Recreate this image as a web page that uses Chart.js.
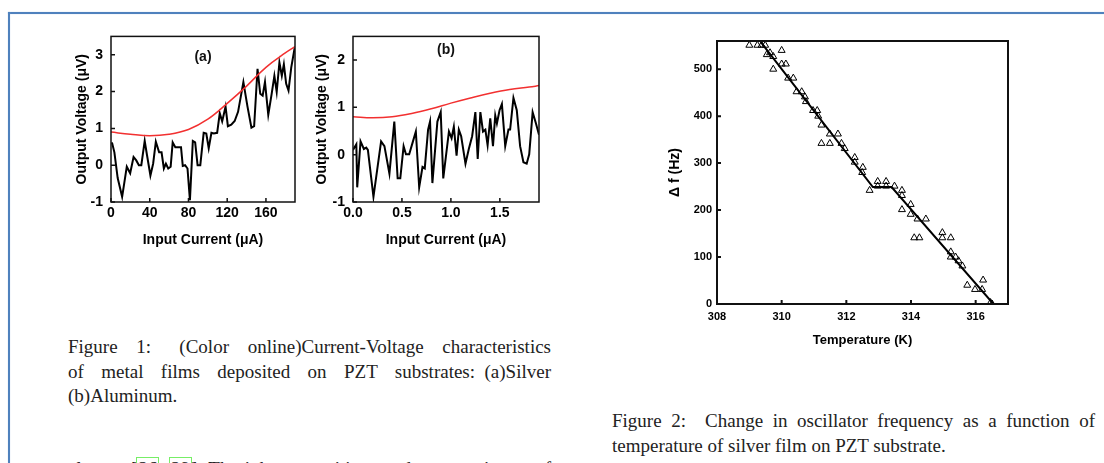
<!DOCTYPE html>
<html>
<head>
<meta charset="utf-8">
<script src="https://cdn.jsdelivr.net/npm/chart.js@4.4.1/dist/chart.umd.min.js"></script>
<style>
  html, body { margin: 0; padding: 0; background: #fff; }
  body { width: 1104px; height: 463px; position: relative; overflow: hidden; }
  .rule-top { position: absolute; left: 8px; top: 12px; width: 1096px; height: 2px; background: #4f81bd; box-shadow: 0 0 1px #9db9de; }
  .rule-left { position: absolute; left: 8px; top: 12px; width: 2px; height: 451px; background: #4f81bd; box-shadow: 0 0 1px #9db9de; }
  canvas { position: absolute; }
  .cap { position: absolute; width: 483px; font-family: "Liberation Serif", "DejaVu Serif", serif; font-size: 19px; line-height: 24.5px; color: #222; }
  .cap .j { text-align: justify; text-align-last: justify; }
  .cite { outline: 1px solid #77ee66; outline-offset: 0; padding: 0 1px; }
</style>
</head>
<body>
<div class="rule-top"></div>
<div class="rule-left"></div>

<canvas id="chartA" width="250" height="240" style="left:60px;top:20px"></canvas>
<canvas id="chartB" width="250" height="240" style="left:300px;top:20px"></canvas>
<canvas id="chartC" width="360" height="335" style="left:660px;top:25px"></canvas>

<div class="cap" style="left:68px;top:335px">
  <div class="j">Figure 1:&ensp; (Color online)Current-Voltage characteristics</div>
  <div class="j">of metal films deposited on PZT substrates:&ensp;(a)Silver</div>
  <div>(b)Aluminum.</div>
</div>
<div class="cap" style="left:612px;top:409px">
  <div class="j">Figure 2:&ensp; Change in oscillator frequency as a function of</div>
  <div>temperature of silver film on PZT substrate.</div>
</div>
<div class="cap" style="left:68px;top:457px">
  <div class="j">also on [<span class="cite">26</span>, <span class="cite">29</span>]. The ink composition used was a mixture of metal</div>
</div>

<script>
// Figure 1(a): silver film
const silverCurrent = [1.0, 3.5, 6.9, 11.5, 16.3, 19.8, 23.3, 26.1, 28.8, 31.3, 34.8, 37.2, 40.7, 43.5, 46.3, 49.7,
  52.2, 54.6, 56.7, 59.1, 61.6, 63.7, 66.4, 69.6, 72.3, 74.1, 76.5, 79, 81.5, 84.5, 86.9, 89.4, 92.2, 95.7, 98.4,
  100.9, 103.7, 106.1, 109.6, 112.3, 114.8, 118.3, 120.7, 124.2, 127.7, 131.2, 136.7, 140.9, 145, 147.8, 151.3,
  154.1, 156.6, 159, 162.4, 165.9, 168.7, 171.1, 173.9, 176.4, 178.5, 180.9, 183.3, 186.1, 189.6];
const silverVoltage = [0.62, 0.35, -0.35, -0.86, -0.04, -0.22, 0.22, 0.13, 0, 0, 0.66, 0.27, -0.28, 0.04, 0.64, 0.35,
  0.35, -0.09, 0.04, -0.09, -0.04, 0.62, 0.49, 0.49, 0.49, -0.02, 0, -0.09, -0.95, 0.66, 0.62, 0, 0, 0.88, 0.86,
  0.46, 0.88, 0.86, 0.88, 1.41, 1.19, 1.59, 1.06, 1.1, 1.2, 1.45, 2.26, 1.6, 1.02, 1.06, 2.62,
  1.94, 1.89, 2.26, 1.37, 1.94, 2.43, 1.99, 2.79, 2.43, 2.74, 2.21, 2.03, 2.65, 3.18];
const silverFitCurrent = [0, 20, 40, 60, 80, 100, 120, 140, 160, 180, 190];
const silverFitVoltage = [0.9, 0.84, 0.8, 0.84, 0.97, 1.25, 1.68, 2.15, 2.66, 3.05, 3.22];

// Figure 1(b): aluminium film
const aluCurrent = [0.0, 0.034, 0.043, 0.077, 0.111, 0.135, 0.152, 0.209, 0.287, 0.321, 0.372, 0.422, 0.456, 0.483,
  0.517, 0.541, 0.574, 0.608, 0.642, 0.676, 0.71, 0.733, 0.767, 0.787, 0.811, 0.862, 0.896, 0.922, 0.98, 1.007,
  1.03, 1.058, 1.081, 1.105, 1.149, 1.183, 1.217, 1.25, 1.274, 1.301, 1.328, 1.352, 1.375, 1.402, 1.43, 1.453,
  1.47, 1.497, 1.521, 1.555, 1.588, 1.605, 1.639, 1.673, 1.707, 1.741, 1.774, 1.8, 1.835, 1.869, 1.9];
const aluVoltage = [0.1, 0.22, -0.69, 0.28, 0.12, 0.15, 0.1, -0.89, 0.28, 0.18, -0.4, 0.7, -0.5, -0.5,
  0.18, 0.01, 0.01, 0.25, 0.49, -0.69, -0.26, -0.29, 0.53, 0.7, -0.6, 0.7, 0.9, -0.5, 0.49, 0.35,
  0.59, -0.02, 0.53, 0.39, -0.19, 0.12, 0.39, 0.9, -0.09, 0.9, 0.49, 0.53, 0.2, 0.77, 0.18, 0.83,
  0.66, 0.94, 1.07, 0.18, 0.53, 0.53, 1.2, 0.94, 0.18, -0.16, -0.19, 0.01, 0.9, 0.66, 0.42];
const aluFitCurrent = [0, 0.2, 0.4, 0.6, 0.8, 1.0, 1.2, 1.4, 1.6, 1.8, 1.9];
const aluFitVoltage = [0.8, 0.78, 0.8, 0.87, 0.97, 1.09, 1.2, 1.3, 1.38, 1.43, 1.46];

// Figure 2: frequency shift vs temperature
const tempK = [309.0, 309.25, 309.38, 309.49, 309.54, 309.64, 309.74, 309.74, 310.0, 310.0, 310.13, 310.2, 310.36,
  310.46, 310.62, 310.72, 310.75, 310.97, 311.1, 311.13, 311.23, 311.23, 311.49, 311.49, 311.74, 311.85, 311.95,
  312.26, 312.26, 312.51, 312.49, 312.72, 312.97, 312.97, 313.23, 313.23, 313.49, 313.72, 313.72, 313.72, 313.99,
  313.99, 314.1, 314.26, 314.2, 314.46, 314.97, 314.97, 315.23, 315.23, 315.23, 315.38, 315.47, 315.59, 315.74,
  315.98, 316.2, 316.23, 316.46, 316.51];
const deltaF = [551, 551, 551, 551, 531, 535, 527, 500, 540, 511, 511, 481, 481,
  452, 452, 441, 431, 412, 412, 400, 381, 342, 342, 362, 362, 342, 331,
  312, 302, 291, 280, 242, 261, 251, 261, 251, 251, 242, 231, 201, 212,
  191, 141, 141, 181, 181, 152, 141, 141, 111, 100, 100, 92, 81, 40,
  31, 31, 51, 3, 0];
const fitTempK = [309.35, 312.82, 313.4, 316.55];
const fitDeltaF = [558, 249, 249, 0];

const pts = (xs, ys) => xs.map((x, i) => ({ x, y: ys[i] }));

Chart.defaults.color = '#000';
Chart.defaults.font.family = "'Liberation Sans', Arial, sans-serif";
Chart.defaults.font.weight = 'bold';

// box round the plot area, inward ticks on left and bottom, panel label
const frameTicks = {
  id: 'frameTicks',
  afterDraw(chart, args, opts) {
    const { ctx, chartArea: a, scales: { x, y } } = chart;
    ctx.save();
    ctx.strokeStyle = '#111';
    ctx.lineWidth = opts.width;
    ctx.strokeRect(a.left, a.top, a.right - a.left, a.bottom - a.top);
    ctx.beginPath();
    x.ticks.forEach(t => {
      const px = x.getPixelForValue(t.value);
      ctx.moveTo(px, a.bottom);
      ctx.lineTo(px, a.bottom - opts.len);
    });
    y.ticks.forEach(t => {
      const py = y.getPixelForValue(t.value);
      ctx.moveTo(a.left, py);
      ctx.lineTo(a.left + opts.len, py);
    });
    ctx.stroke();
    if (opts.label) {
      ctx.fillStyle = '#111';
      ctx.font = "bold 14px 'Liberation Sans', Arial, sans-serif";
      ctx.textAlign = 'center';
      ctx.textBaseline = 'middle';
      ctx.fillText(opts.label, (a.left + a.right) / 2, a.top + opts.labelDy);
    }
    ctx.restore();
  }
};

function ivChart(id, cur, volt, fitCur, fitVolt, cfg) {
  return new Chart(document.getElementById(id), {
    type: 'scatter',
    data: {
      datasets: [
        { data: pts(fitCur, fitVolt), showLine: true, borderColor: '#f23030', borderWidth: 1.5,
          pointRadius: 0, tension: 0.4, fill: false },
        { data: pts(cur, volt), showLine: true, borderColor: '#000', borderWidth: 2,
          pointRadius: 0, tension: 0, fill: false }
      ]
    },
    options: {
      responsive: false,
      animation: false,
      layout: { padding: { top: 11, right: cfg.right, left: 0, bottom: 0 } },
      plugins: {
        legend: { display: false }, tooltip: { enabled: false },
        frameTicks: { width: 1.5, len: 4, label: cfg.label, labelDy: cfg.labelDy }
      },
      scales: {
        x: {
          type: 'linear', min: 0, max: cfg.xmax,
          grid: { display: false, drawTicks: false }, border: { display: false },
          ticks: { stepSize: cfg.xstep, includeBounds: false, padding: 3, font: { size: 14 },
                   callback: cfg.xfmt },
          title: { display: true, text: 'Input Current (\u03bcA)', font: { size: 14 }, padding: { top: 0, bottom: 11.6 } },
          afterFit: s => { s.height = 58; }
        },
        y: {
          min: -1, max: cfg.ymax,
          grid: { display: false, drawTicks: false }, border: { display: false },
          ticks: { stepSize: 1, includeBounds: false, padding: 8, font: { size: 14 } },
          title: { display: true, text: 'Output Voltage (\u03bcV)', font: { size: 14 }, padding: { top: 13.6, bottom: 0 } },
          afterFit: s => { s.width = cfg.yw; }
        }
      }
    },
    plugins: [frameTicks]
  });
}

ivChart('chartA', silverCurrent, silverVoltage, silverFitCurrent, silverFitVoltage,
  { xmax: 190, xstep: 40, ymax: 3.5, yw: 51, right: 15, label: '(a)', labelDy: 21, xfmt: v => v });
ivChart('chartB', aluCurrent, aluVoltage, aluFitCurrent, aluFitVoltage,
  { xmax: 1.9, xstep: 0.5, ymax: 2.5, yw: 53, right: 11, label: '(b)', labelDy: 14, xfmt: v => v.toFixed(1) });

new Chart(document.getElementById('chartC'), {
  type: 'scatter',
  data: {
    datasets: [
      { data: pts(fitTempK, fitDeltaF), showLine: true, borderColor: '#000', borderWidth: 2,
        pointRadius: 0, tension: 0, fill: false },
      { data: pts(tempK, deltaF), pointStyle: 'triangle', pointRadius: 4, borderWidth: 1,
        borderColor: '#000', backgroundColor: 'rgba(0,0,0,0)' }
    ]
  },
  options: {
    responsive: false,
    animation: false,
    layout: { padding: { top: 16, right: 12, left: 0, bottom: 0 } },
    plugins: {
      legend: { display: false }, tooltip: { enabled: false },
      frameTicks: { width: 2, len: 4 }
    },
    scales: {
      x: {
        type: 'linear', min: 308, max: 317,
        grid: { display: false, drawTicks: false }, border: { display: false },
        ticks: { stepSize: 2, includeBounds: false, padding: 6, font: { size: 11 } },
        title: { display: true, text: 'Temperature (K)', font: { size: 13 }, padding: { top: 0, bottom: 11.5 } },
        afterFit: s => { s.height = 56; }
      },
      y: {
        min: 0, max: 560,
        grid: { display: false, drawTicks: false }, border: { display: false },
        ticks: { stepSize: 100, includeBounds: false, padding: 5, font: { size: 11 } },
        title: { display: true, text: '\u0394 f (Hz)', font: { size: 14 }, padding: { top: 6.5, bottom: 0 } },
        afterFit: s => { s.width = 57; }
      }
    }
  },
  plugins: [frameTicks]
});
</script>
</body>
</html>
